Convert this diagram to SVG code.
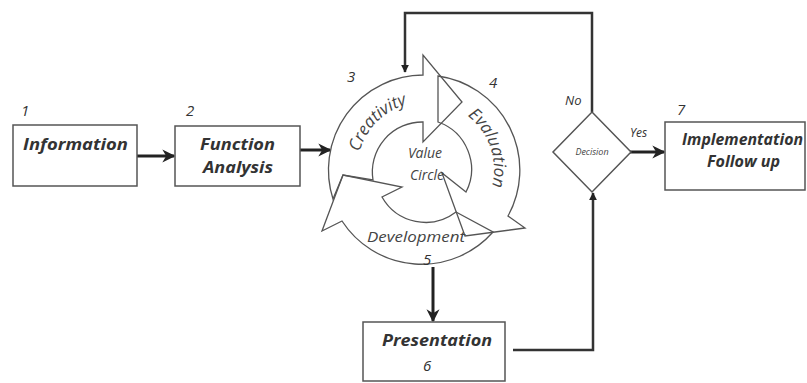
<svg xmlns="http://www.w3.org/2000/svg" width="807" height="383" viewBox="0 0 807 383">
  <style>
    .box { fill: #ffffff; stroke: #555555; stroke-width: 1.5; }
    .cyc { fill: none; stroke: #555555; stroke-width: 1.3; stroke-linejoin: miter; }
    .lbl { font-family: "Open Sans", "Liberation Sans", sans-serif; font-style: italic; font-weight: bold; font-size: 16px; fill: #333333; text-anchor: middle; }
    .num { font-family: "Open Sans", "Liberation Sans", sans-serif; font-style: italic; font-size: 15px; fill: #333333; }
    .arc { font-family: "Open Sans", "Liberation Sans", sans-serif; font-style: italic; font-size: 17px; fill: #444444; }
    .inner { font-family: "Open Sans", "Liberation Sans", sans-serif; font-style: italic; font-size: 14px; fill: #444444; text-anchor: middle; }
    .thick { fill: none; stroke: #222222; stroke-width: 3; }
    .thin { fill: none; stroke: #333333; stroke-width: 2.5; }
  </style>
  <defs>
    <marker id="head" viewBox="0 0 10 10" refX="9" refY="5" markerUnits="userSpaceOnUse" markerWidth="13" markerHeight="15" orient="auto">
      <path d="M0,0 L10,5 L0,10 L3,5 Z" fill="#222222"/>
    </marker>
    <marker id="small" viewBox="0 0 10 10" refX="9" refY="5" markerUnits="userSpaceOnUse" markerWidth="8" markerHeight="8" orient="auto">
      <path d="M0,0 L10,5 L0,10 Z" fill="#222222"/>
    </marker>
    <path id="creativityPath" d="M357.5,178.3 A68,68 0 0 1 433.3,102.5"/>
    <path id="evaluationPath" d="M447.5,104.8 A69,69 0 0 1 482.9,207.6"/>
  </defs>

  <rect width="807" height="383" fill="#ffffff"/>

  <!-- connectors -->
  <g id="connectors">
    <path class="thick" d="M137,156 L174,156" marker-end="url(#head)"/>
    <path class="thick" d="M300,150 L330,150" marker-end="url(#head)"/>
    <path class="thick" d="M630,152 L664,152" marker-end="url(#head)"/>
    <path class="thick" d="M433,267 L433,321" marker-end="url(#head)"/>
    <path class="thin" d="M592,112 L592,13 L405,13 L405,72" marker-end="url(#small)"/>
    <path class="thin" d="M513,350 L593,350 L593,193" marker-end="url(#small)"/>
    <text class="num" x="565" y="105" style="font-size:13px">No</text>
    <text class="num" x="630" y="137" style="font-size:12px">Yes</text>
  </g>

  <!-- step 1 -->
  <g id="information">
    <rect class="box" x="13" y="125" width="124" height="61"/>
    <text class="num" x="21" y="116">1</text>
    <text class="lbl" x="75.5" y="150" textLength="105" lengthAdjust="spacingAndGlyphs">Information</text>
  </g>

  <!-- step 2 -->
  <g id="function-analysis">
    <rect class="box" x="175" y="126" width="125" height="60"/>
    <text class="num" x="186" y="116">2</text>
    <text class="lbl" x="237.5" y="150" textLength="75" lengthAdjust="spacingAndGlyphs">Function</text>
    <text class="lbl" x="238" y="173" textLength="70" lengthAdjust="spacingAndGlyphs">Analysis</text>
  </g>

  <!-- value circle: creativity, evaluation, development -->
  <g id="value-circle">
    <path id="creativity" class="cyc" d="M333,199 A95,95 0 0 1 423,75 L423,55 L462,102 L423,142 L423,122 A50,50 0 0 0 373,180 L343,175 Z"/>
    <path id="evaluation" class="cyc" d="M438,76 A95,95 0 0 1 508,216 L525,228 L465,236 L442,173 L466,192 A50,50 0 0 0 438,122 Z"/>
    <path id="development" class="cyc" d="M456,212 L493,232 A95,95 0 0 1 342,221 L322,231 L343,175 L402,187 L382,197 A50,50 0 0 0 456,212 Z"/>
    <text class="arc"><textPath href="#creativityPath" startOffset="50%" text-anchor="middle">Creativity</textPath></text>
    <text class="arc"><textPath href="#evaluationPath" startOffset="50%" text-anchor="middle">Evaluation</textPath></text>
    <text class="inner" x="416" y="242" textLength="98" lengthAdjust="spacingAndGlyphs" style="font-size:15px">Development</text>
    <text class="inner" x="425" y="158">Value</text>
    <text class="inner" x="427" y="180">Circle</text>
    <text class="num" x="347" y="82">3</text>
    <text class="num" x="489" y="88">4</text>
    <text class="num" x="423" y="265">5</text>
  </g>

  <!-- step 6 -->
  <g id="presentation">
    <rect class="box" x="363" y="322" width="142" height="59"/>
    <text class="lbl" x="437" y="346" textLength="110" lengthAdjust="spacingAndGlyphs">Presentation</text>
    <text class="num" x="423" y="371">6</text>
  </g>

  <!-- decision -->
  <g id="decision">
    <polygon class="box" points="592,112 631,152 592,192 553,152"/>
    <text class="inner" x="592" y="155" style="font-size:9px">Decision</text>
  </g>

  <!-- step 7 -->
  <g id="implementation">
    <rect class="box" x="665" y="122" width="140" height="68"/>
    <text class="num" x="677" y="115">7</text>
    <text class="lbl" x="742.5" y="145" textLength="121" lengthAdjust="spacingAndGlyphs">Implementation</text>
    <text class="lbl" x="743.5" y="167" textLength="73" lengthAdjust="spacingAndGlyphs">Follow up</text>
  </g>
</svg>
